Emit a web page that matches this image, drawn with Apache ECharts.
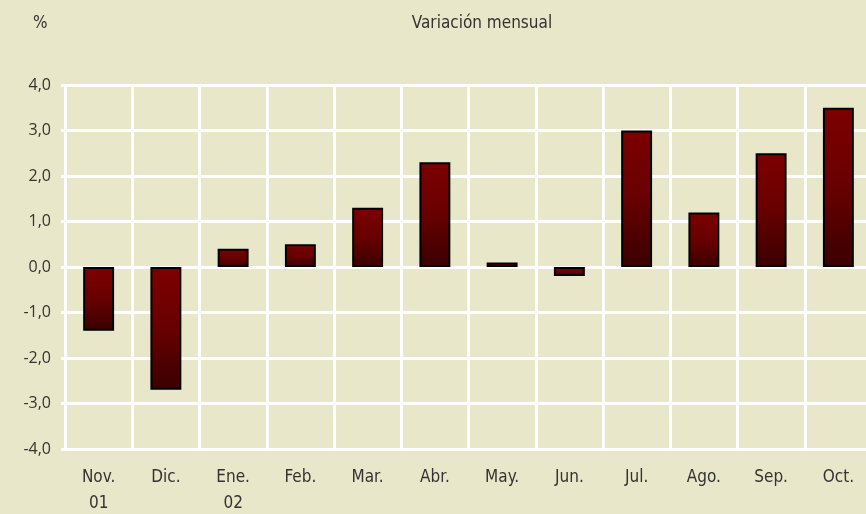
<!DOCTYPE html>
<html>
<head>
<meta charset="utf-8">
<script src="https://cdn.jsdelivr.net/npm/echarts@6/dist/echarts.min.js"></script>
<style>
  html, body { margin: 0; padding: 0; background: #e9e7c9; }
  #chart { width: 866px; height: 514px; }
</style>
</head>
<body>
<div id="chart"></div>
<script>
// meses (nov. 2001 - oct. 2002)
const months = ['Nov.\n01', 'Dic.', 'Ene.\n02', 'Feb.', 'Mar.', 'Abr.', 'May.', 'Jun.', 'Jul.', 'Ago.', 'Sep.', 'Oct.'];
const monthlyChange = [-1.4, -2.7, 0.4, 0.5, 1.3, 2.3, 0.1, -0.2, 3.0, 1.2, 2.5, 3.5];
const yTicks = [-4, -3, -2, -1, 0, 1, 2, 3, 4];

const narrow = '"Liberation Sans Narrow", "DejaVu Sans Condensed", sans-serif';
const labelColor = '#333333';

const chart = echarts.init(document.getElementById('chart'));

chart.setOption({
  backgroundColor: '#e9e7c9',
  animation: false,
  title: [
    {
      text: 'Variación mensual',
      left: 477,
      top: 10,
      textAlign: 'center',
      textStyle: { fontFamily: narrow, fontSize: 17, fontWeight: 'normal', color: labelColor }
    },
    {
      text: '%',
      left: 28,
      top: 10,
      textStyle: { fontFamily: narrow, fontSize: 17, fontWeight: 'normal', color: labelColor }
    }
  ],
  grid: {
    left: 65,
    right: -6,
    top: 85,
    bottom: 65,
    outerBoundsMode: 'none',
    containLabel: false
  },
  xAxis: {
    type: 'category',
    data: months,
    boundaryGap: true,
    axisLine: { show: false },
    axisTick: { show: false },
    axisLabel: {
      interval: 0,
      margin: 16,
      fontFamily: narrow,
      fontSize: 17,
      lineHeight: 26,
      color: labelColor,
      verticalAlign: 'top'
    },
    splitLine: {
      show: true,
      interval: 0,
      lineStyle: { color: '#ffffff', width: 3 }
    }
  },
  yAxis: {
    type: 'value',
    min: yTicks[0],
    max: yTicks[yTicks.length - 1],
    interval: 1,
    axisLine: { show: false },
    axisTick: { show: true, length: 4, lineStyle: { color: '#ffffff', width: 3 } },
    axisLabel: {
      margin: 14,
      fontFamily: '"Open Sans", sans-serif',
      fontSize: 16,
      color: labelColor,
      formatter: v => v.toFixed(1).replace('.', ',')
    },
    splitLine: { lineStyle: { color: '#ffffff', width: 3 } }
  },
  series: [
    {
      type: 'bar',
      data: monthlyChange,
      barWidth: '46%',
      itemStyle: {
        color: new echarts.graphic.LinearGradient(0, 0, 0, 1, [
          { offset: 0, color: '#7d0000' },
          { offset: 0.5, color: '#680000' },
          { offset: 1, color: '#3a0000' }
        ]),
        borderColor: '#000000',
        borderWidth: 2
      }
    }
  ]
});
</script>
</body>
</html>
